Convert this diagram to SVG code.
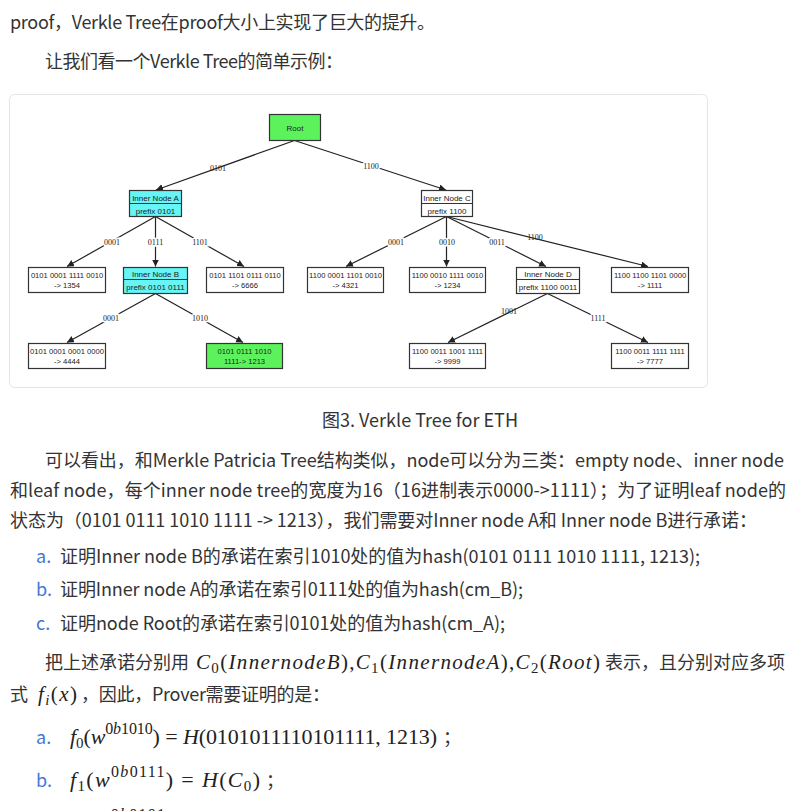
<svg xmlns="http://www.w3.org/2000/svg" width="800" height="811" viewBox="0 0 800 811">
<style>
.p{font-family:"Noto Sans CJK SC","Noto Sans",sans-serif;font-size:18px;fill:#333}
.mk{font-family:"Noto Sans CJK SC","Noto Sans",sans-serif;font-size:18px;fill:#4677d4}
.m{font-family:"Liberation Serif",serif;font-size:21px;fill:#222}
.m2{font-family:"Liberation Serif",serif;font-size:22px;fill:#222}
.i{font-style:italic}
.sub{font-size:15px}
.sup{font-size:16px}
.frame{fill:#fff;stroke:#e4e4e4;stroke-width:1}
.box{fill:#fff;stroke:#333;stroke-width:1.2}
.green{fill:#5cf25c;stroke:#333;stroke-width:1.2}
.cyan{fill:#66f4f4;stroke:#333;stroke-width:1.2}
.div{stroke:#333;stroke-width:1}
.nt{font-family:"Liberation Sans",sans-serif;font-size:8px;fill:#222;text-anchor:middle}
.lt{font-family:"Liberation Sans",sans-serif;font-size:7.6px;fill:#222;text-anchor:middle}
.edge{stroke:#222;stroke-width:1.2;fill:none;marker-end:url(#arr)}
.lbl{font-family:"Liberation Serif",serif;font-size:8px;fill:#222;text-anchor:middle;stroke:#fff;stroke-width:3;paint-order:stroke}
.lbl2{font-family:"Liberation Serif",serif;font-size:8px;fill:#222;text-anchor:middle}
</style>
<defs>
<marker id="arr" markerWidth="8" markerHeight="8" refX="7" refY="3.5" orient="auto" markerUnits="userSpaceOnUse"><path d="M0,0 L7,3.5 L0,7 z" fill="#222"/></marker>
</defs>
<rect width="800" height="811" fill="#fff"/>

<g id="text-top">
<text class="p" x="10" y="28.5" textLength="425">proof，Verkle Tree在proof大小上实现了巨大的提升。</text>
<text class="p" x="45" y="67.5" textLength="298">让我们看一个Verkle Tree的简单示例：</text>
</g>

<g id="diagram">
<rect class="frame" x="9.5" y="94.5" width="698" height="293" rx="5"/>
<g id="connectors">
<line class="edge" x1="294.5" y1="140.5" x2="156" y2="190"/>
<line class="edge" x1="294.5" y1="140.5" x2="446" y2="190"/>
<line class="edge" x1="155.5" y1="216.5" x2="67" y2="266.5"/>
<line class="edge" x1="155.5" y1="216.5" x2="155.5" y2="266.5"/>
<line class="edge" x1="155.5" y1="216.5" x2="244" y2="266.5"/>
<line class="edge" x1="155.5" y1="293.5" x2="67" y2="342.5"/>
<line class="edge" x1="155.5" y1="293.5" x2="243" y2="342.5"/>
<line class="edge" x1="446.5" y1="216.5" x2="346" y2="266.5"/>
<line class="edge" x1="446.5" y1="216.5" x2="446.5" y2="266.5"/>
<line class="edge" x1="446.5" y1="216.5" x2="546" y2="266.5"/>
<line class="edge" x1="446.5" y1="216.5" x2="648" y2="266.5"/>
<line class="edge" x1="547.5" y1="293.5" x2="448" y2="342.5"/>
<line class="edge" x1="547.5" y1="293.5" x2="648" y2="342.5"/>
<text class="lbl2" x="218" y="170.5">0101</text>
<text class="lbl" x="371" y="168.5">1100</text>
<text class="lbl" x="112" y="244.5">0001</text>
<text class="lbl" x="155.5" y="244.5">0111</text>
<text class="lbl" x="200" y="244.5">1101</text>
<text class="lbl" x="111" y="320.5">0001</text>
<text class="lbl" x="200" y="320.5">1010</text>
<text class="lbl" x="396" y="244.5">0001</text>
<text class="lbl" x="447" y="244.5">0010</text>
<text class="lbl" x="497" y="244.5">0011</text>
<text class="lbl2" x="535" y="239.5">1100</text>
<text class="lbl2" x="509" y="313.5">1001</text>
<text class="lbl" x="598" y="320.5">1111</text>
</g>

<g id="node-root">
<rect class="green" x="269.5" y="114.5" width="51" height="26"/>
<text class="nt" x="295" y="130.5">Root</text>
</g>
<g id="node-inner-a">
<rect class="cyan" x="129.5" y="190.5" width="52" height="26"/>
<line class="div" x1="129.5" y1="203.5" x2="181.5" y2="203.5"/>
<text class="nt" x="155.5" y="200.5">Inner Node A</text>
<text class="nt" x="155.5" y="213.5">prefix 0101</text>
</g>
<g id="node-inner-c">
<rect class="box" x="421.5" y="190.5" width="51" height="26"/>
<line class="div" x1="421.5" y1="203.5" x2="472.5" y2="203.5"/>
<text class="nt" x="447" y="200.5">Inner Node C</text>
<text class="nt" x="447" y="213.5">prefix 1100</text>
</g>
<g id="leaf-1354">
<rect class="box" x="28.5" y="267.5" width="77" height="25"/>
<text class="lt" x="67" y="278">0101 0001 1111 0010</text>
<text class="lt" x="67" y="288">-&gt; 1354</text>
</g>
<g id="node-inner-b">
<rect class="cyan" x="123.5" y="267.5" width="64" height="26"/>
<line class="div" x1="123.5" y1="279.5" x2="187.5" y2="279.5"/>
<text class="nt" x="155.5" y="276.5">Inner Node B</text>
<text class="nt" x="155.5" y="289.5">prefix 0101 0111</text>
</g>
<g id="leaf-6666">
<rect class="box" x="206.5" y="267.5" width="77" height="25"/>
<text class="lt" x="245" y="278">0101 1101 0111 0110</text>
<text class="lt" x="245" y="288">-&gt; 6666</text>
</g>
<g id="leaf-4321">
<rect class="box" x="307.5" y="267.5" width="76" height="25"/>
<text class="lt" x="345.5" y="278">1100 0001 1101 0010</text>
<text class="lt" x="345.5" y="288">-&gt; 4321</text>
</g>
<g id="leaf-1234">
<rect class="box" x="409.5" y="267.5" width="76" height="25"/>
<text class="lt" x="447.5" y="278">1100 0010 1111 0010</text>
<text class="lt" x="447.5" y="288">-&gt; 1234</text>
</g>
<g id="node-inner-d">
<rect class="box" x="516.5" y="267.5" width="63" height="26"/>
<line class="div" x1="516.5" y1="279.5" x2="579.5" y2="279.5"/>
<text class="nt" x="548" y="276.5">Inner Node D</text>
<text class="nt" x="548" y="289.5">prefix 1100 0011</text>
</g>
<g id="leaf-1111">
<rect class="box" x="611.5" y="267.5" width="77" height="25"/>
<text class="lt" x="650" y="278">1100 1100 1101 0000</text>
<text class="lt" x="650" y="288">-&gt; 1111</text>
</g>
<g id="leaf-4444">
<rect class="box" x="28.5" y="343.5" width="77" height="25"/>
<text class="lt" x="67" y="354">0101 0001 0001 0000</text>
<text class="lt" x="67" y="364">-&gt; 4444</text>
</g>
<g id="leaf-1213">
<rect class="green" x="206.5" y="343.5" width="76" height="25"/>
<text class="lt" x="244.5" y="354">0101 0111 1010</text>
<text class="lt" x="244.5" y="364">1111-&gt; 1213</text>
</g>
<g id="leaf-9999">
<rect class="box" x="409.5" y="343.5" width="76" height="25"/>
<text class="lt" x="447.5" y="354">1100 0011 1001 1111</text>
<text class="lt" x="447.5" y="364">-&gt; 9999</text>
</g>
<g id="leaf-7777">
<rect class="box" x="611.5" y="343.5" width="77" height="25"/>
<text class="lt" x="650" y="354">1100 0011 1111 1111</text>
<text class="lt" x="650" y="364">-&gt; 7777</text>
</g>
</g>

<g id="text-body">
<text class="p" x="322" y="427" textLength="196">图3. Verkle Tree for ETH</text>
<text class="p" x="45" y="466.5" textLength="739">可以看出，和Merkle Patricia Tree结构类似，node可以分为三类：empty node、inner node</text>
<text class="p" x="10" y="496.5" textLength="776">和leaf node，每个inner node tree的宽度为16（16进制表示0000-&gt;1111）；为了证明leaf node的</text>
<text class="p" x="10" y="526.5" textLength="747">状态为（0101 0111 1010 1111 -&gt; 1213），我们需要对Inner node A和 Inner node B进行承诺：</text>
<text class="mk" x="36" y="562.5">a.</text>
<text class="p" x="60" y="562.5" textLength="640">证明Inner node B的承诺在索引1010处的值为hash(0101 0111 1010 1111, 1213);</text>
<text class="mk" x="36" y="595.5">b.</text>
<text class="p" x="60" y="595.5" textLength="463">证明Inner node A的承诺在索引0111处的值为hash(cm_B);</text>
<text class="mk" x="36" y="629.5">c.</text>
<text class="p" x="60" y="629.5" textLength="445">证明node Root的承诺在索引0101处的值为hash(cm_A);</text>

<text class="p" x="45" y="668.5" textLength="144">把上述承诺分别用</text>
<text class="m" x="196" y="668.5" textLength="404"><tspan class="i">C</tspan><tspan class="sub" dy="4">0</tspan><tspan dy="-4">(</tspan><tspan class="i">InnernodeB</tspan><tspan>),</tspan><tspan class="i">C</tspan><tspan class="sub" dy="4">1</tspan><tspan dy="-4">(</tspan><tspan class="i">InnernodeA</tspan><tspan>),</tspan><tspan class="i">C</tspan><tspan class="sub" dy="4">2</tspan><tspan dy="-4">(</tspan><tspan class="i">Root</tspan><tspan>)</tspan></text>
<text class="p" x="605" y="668.5" textLength="180">表示，且分别对应多项</text>

<text class="p" x="10" y="700.5">式</text>
<text class="m" x="38" y="700.5" textLength="39"><tspan class="i">f</tspan><tspan class="sub i" dy="4">i</tspan><tspan dy="-4">(</tspan><tspan class="i">x</tspan><tspan>)</tspan></text>
<text class="p" x="81" y="700.5" textLength="249">，因此，Prover需要证明的是：</text>

<text class="mk" x="36" y="744">a.</text>
<text class="m2" x="70" y="744" textLength="367"><tspan class="i">f</tspan><tspan class="sub" dy="4">0</tspan><tspan dy="-4">(</tspan><tspan class="i">w</tspan><tspan class="sup" dy="-10">0<tspan class="i">b</tspan>1010</tspan><tspan dy="10">) = </tspan><tspan class="i">H</tspan><tspan>(0101011110101111, 1213)</tspan></text>
<text class="p" x="443" y="744">；</text>

<text class="mk" x="36" y="787">b.</text>
<text class="m2" x="70" y="787" textLength="190"><tspan class="i">f</tspan><tspan class="sub" dy="4">1</tspan><tspan dy="-4">(</tspan><tspan class="i">w</tspan><tspan class="sup" dy="-10">0<tspan class="i">b</tspan>0111</tspan><tspan dy="10">) = </tspan><tspan class="i">H</tspan><tspan>(</tspan><tspan class="i">C</tspan><tspan class="sub" dy="4">0</tspan><tspan dy="-4">)</tspan></text>
<text class="p" x="266" y="787">；</text>

<text class="m2" x="70" y="830" textLength="190"><tspan class="i">f</tspan><tspan class="sub" dy="4">2</tspan><tspan dy="-4">(</tspan><tspan class="i">w</tspan><tspan class="sup" dy="-10">0<tspan class="i">b</tspan>0101</tspan><tspan dy="10">) = </tspan><tspan class="i">H</tspan><tspan>(</tspan><tspan class="i">C</tspan><tspan class="sub" dy="4">1</tspan><tspan dy="-4">)</tspan></text>
</g>
</svg>
